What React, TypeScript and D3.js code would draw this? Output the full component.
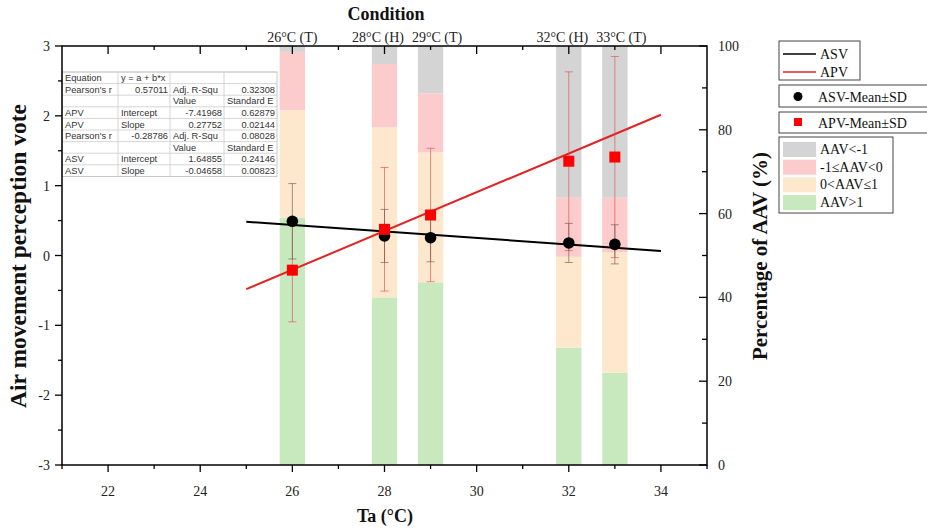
import React from "react";
import * as d3 from "d3";

// ---------- data ----------
const temps = [26, 28, 29, 32, 33];
const conditionLabels = ["26°C (T)", "28°C (H)", "29°C (T)", "32°C (H)", "33°C (T)"];
// stacked percentages (bottom to top)
const pctGt1 = [59, 40, 43.6, 28, 22];          // AAV>1
const pct0to1 = [25.7, 40.6, 31, 21.7, 28.8];   // 0<AAV≤1
const pctM1to0 = [13.9, 15.1, 14.1, 14.1, 13];  // -1≤AAV<0
const pctLtM1 = [1.4, 4.3, 11.3, 36.2, 36.2];   // AAV<-1
const asvMean = [0.49, 0.28, 0.255, 0.18, 0.16];
const asvSd = [0.54, 0.38, 0.345, 0.28, 0.28];
const apvMean = [-0.21, 0.375, 0.58, 1.35, 1.41];
const apvSd = [0.74, 0.885, 0.955, 1.28, 1.44];
const fitRange = [25, 34];
const apvFit = { a: -7.41968, b: 0.27752, r: "0.57011", adjR2: "0.32308", seA: "0.62879", seB: "0.02144" };
const asvFit = { a: 1.64855, b: -0.04658, r: "-0.28786", adjR2: "0.08028", seA: "0.24146", seB: "0.00823" };
const xTicks = [22, 24, 26, 28, 30, 32, 34];
const yTicks = [-3, -2, -1, 0, 1, 2, 3];
const pTicks = [0, 20, 40, 60, 80, 100];

const stackKeys = ["AAV>1", "0<AAV≤1", "-1≤AAV<0", "AAV<-1"];
const stackColors = ["#c7e9bd", "#fde7cd", "#fccbcb", "#d4d4d4"];
const stackArrays = [pctGt1, pct0to1, pctM1to0, pctLtM1];

const W = 927, H = 528;
const L = 62, R = 707, T = 46, B = 465;
const serif = "'Liberation Serif', 'Times New Roman', serif";
const sans = "'Liberation Sans', Arial, sans-serif";

// push overlapping label centers apart
function spreadLabels(centers: number[], minGap: number) {
  const c = centers.slice();
  for (let i = 0; i < c.length - 1; i++) {
    const d = c[i + 1] - c[i];
    if (d < minGap) {
      const s = (minGap - d) / 2;
      c[i] -= s;
      c[i + 1] += s;
    }
  }
  return c;
}

export default function App() {
  const x = d3.scaleLinear().domain([21, 35]).range([L, R]);
  const y = d3.scaleLinear().domain([-3, 3]).range([B, T]);
  const yp = d3.scaleLinear().domain([0, 100]).range([B, T]);
  const barW = x(0.55) - x(0);

  const rows = temps.map((t, i) => {
    const o: any = { t };
    stackKeys.forEach((k, j) => (o[k] = stackArrays[j][i]));
    return o;
  });
  const stacked = d3.stack().keys(stackKeys)(rows as any);

  const fitLine = (f: { a: number; b: number }) =>
    d3.line<number>()
      .x((t) => x(t))
      .y((t) => y(f.a + f.b * t))(fitRange);

  const minorX = d3.range(21, 35.01, 1);
  const minorY = d3.range(-3, 3.01, 0.5);
  const minorP = d3.range(0, 100.01, 10);
  const labelX = spreadLabels(temps.map((t) => x(t)), 59);

  // table
  const tX = [62, 118, 170, 224, 277];
  const tY0 = 72, rh = 11.6;
  const table: string[][] = [
    ["Equation", "y = a + b*x", "", ""],
    ["Pearson's r", apvFit.r, "Adj. R-Squ", apvFit.adjR2],
    ["", "", "Value", "Standard E"],
    ["APV", "Intercept", apvFit.a.toFixed(5), apvFit.seA],
    ["APV", "Slope", apvFit.b.toFixed(5), apvFit.seB],
    ["Pearson's r", asvFit.r, "Adj. R-Squ", asvFit.adjR2],
    ["", "", "Value", "Standard E"],
    ["ASV", "Intercept", asvFit.a.toFixed(5), asvFit.seA],
    ["ASV", "Slope", asvFit.b.toFixed(5), asvFit.seB],
  ];
  const isNum = (s: string) => /^-?\d/.test(s);

  const errBar = (cx: number, m: number, sd: number, color: string, key: string) => (
    <g key={key} stroke={color} strokeWidth={1}>
      <line x1={cx} x2={cx} y1={y(m - sd)} y2={y(m + sd)} />
      <line x1={cx - 4} x2={cx + 4} y1={y(m - sd)} y2={y(m - sd)} />
      <line x1={cx - 4} x2={cx + 4} y1={y(m + sd)} y2={y(m + sd)} />
    </g>
  );

  return (
    <svg width={W} height={H} style={{ position: "absolute", left: 0, top: 0, background: "#fff" }}>
      <rect width={W} height={H} fill="#fff" />
      {/* stacked bars */}
      {stacked.map((s, j) => (
        <g key={j} fill={stackColors[j]}>
          {s.map((d: any, i: number) => (
            <rect key={i} x={x(temps[i]) - barW / 2} width={barW} y={yp(d[1])} height={yp(d[0]) - yp(d[1])} />
          ))}
        </g>
      ))}

      {/* table */}
      <g fontFamily={sans} fontSize={9.3} fill="#333">
        <rect x={tX[0]} y={tY0} width={tX[4] - tX[0]} height={rh * 9} fill="#fff" stroke="#bbb" strokeWidth={0.8} />
        {table.map((_, r) => (
          <line key={"h" + r} x1={tX[0]} x2={tX[4]} y1={tY0 + rh * r} y2={tY0 + rh * r} stroke="#ccc" strokeWidth={0.8} />
        ))}
        {tX.slice(1, 4).map((cx, c) => (
          <line key={"v" + c} x1={cx} x2={cx} y1={tY0} y2={tY0 + rh * 9} stroke="#ccc" strokeWidth={0.8} />
        ))}
        {table.map((row, r) =>
          row.map((cell, c) =>
            cell ? (
              isNum(cell) ? (
                <text key={r + "-" + c} x={tX[c + 1] - 2} y={tY0 + rh * r + rh / 2 + 3.3} textAnchor="end">{cell}</text>
              ) : (
                <text key={r + "-" + c} x={tX[c] + 3} y={tY0 + rh * r + rh / 2 + 3.3}>{cell}</text>
              )
            ) : null
          )
        )}
      </g>

      {/* regression lines */}
      <path d={fitLine(asvFit) || ""} stroke="#000" strokeWidth={2} fill="none" />
      <path d={fitLine(apvFit) || ""} stroke="#e02424" strokeWidth={2} fill="none" />

      {/* error bars */}
      {temps.map((t, i) => errBar(x(t), apvMean[i], apvSd[i], "rgba(220,70,70,0.6)", "pe" + i))}
      {temps.map((t, i) => errBar(x(t), asvMean[i], asvSd[i], "rgba(110,80,70,0.6)", "ae" + i))}

      {/* markers */}
      {temps.map((t, i) => (
        <circle key={"c" + i} cx={x(t)} cy={y(asvMean[i])} r={5.8} fill="#000" />
      ))}
      {temps.map((t, i) => (
        <rect key={"s" + i} x={x(t) - 5.5} y={y(apvMean[i]) - 5.5} width={11} height={11} fill="#ff0000" />
      ))}

      {/* frame */}
      <rect x={L} y={T} width={R - L} height={B - T} fill="none" stroke="#000" strokeWidth={1.5} />

      {/* ticks */}
      <g stroke="#000" strokeWidth={1.3}>
        {minorX.map((v) => (
          <line key={"bx" + v} x1={x(v)} x2={x(v)} y1={B} y2={B + (v % 2 === 0 ? 7 : 4)} />
        ))}
        {minorX.filter((v) => v >= 22 && v <= 34).map((v) => (
          <line key={"tx" + v} x1={x(v)} x2={x(v)} y1={T} y2={T + (v % 2 === 0 ? 8 : 4)} />
        ))}
        {minorY.map((v) => (
          <line key={"ly" + v} x1={L} x2={L - (Number.isInteger(v) ? 7 : 4)} y1={y(v)} y2={y(v)} />
        ))}
        {minorP.map((v) => (
          <line key={"rp" + v} x1={R} x2={R - (v % 20 === 0 ? 8 : 5)} y1={yp(v)} y2={yp(v)} />
        ))}
      </g>
      <g fontFamily={serif} fontSize={14} fill="#222">
        {xTicks.map((v) => (
          <text key={"xl" + v} x={x(v)} y={496} textAnchor="middle">{v}</text>
        ))}
        {yTicks.map((v) => (
          <text key={"yl" + v} x={50} y={y(v) + 5} textAnchor="end">{v}</text>
        ))}
        {pTicks.map((v) => (
          <text key={"pl" + v} x={718} y={yp(v) + 5}>{v}</text>
        ))}
        {temps.map((t, i) => (
          <text key={"cl" + i} x={labelX[i]} y={42} textAnchor="middle">{conditionLabels[i]}</text>
        ))}
      </g>

      {/* titles */}
      <g fontFamily={serif} fontWeight="bold" fill="#111">
        <text x={386} y={20} fontSize={18} textAnchor="middle">Condition</text>
        <text x={385} y={522} fontSize={18} textAnchor="middle">Ta (°C)</text>
        <text transform="translate(26,256) rotate(-90)" fontSize={23.5} textAnchor="middle">Air movement perception vote</text>
        <text transform="translate(767,256) rotate(-90)" fontSize={21} textAnchor="middle">Percentage of AAV (%)</text>
      </g>

      {/* legends */}
      <g fontFamily={serif} fontSize={14} fill="#111">
        <rect x={779} y={41} width={81} height={39} fill="#fff" stroke="#444" strokeWidth={1} />
        <line x1={783} x2={816} y1={54} y2={54} stroke="#000" strokeWidth={1.5} />
        <text x={820} y={59}>ASV</text>
        <line x1={783} x2={816} y1={72} y2={72} stroke="#e02424" strokeWidth={1.5} />
        <text x={820} y={77}>APV</text>

        <rect x={779} y={85} width={150} height={22} fill="#fff" stroke="#444" strokeWidth={1} />
        <circle cx={798} cy={96.5} r={4.5} fill="#000" />
        <text x={818} y={101.5}>ASV-Mean±SD</text>

        <rect x={779} y={112} width={150} height={21} fill="#fff" stroke="#444" strokeWidth={1} />
        <rect x={794} y={118} width={8} height={8} fill="#ff0000" />
        <text x={818} y={127.5}>APV-Mean±SD</text>

        <rect x={779} y={137} width={114} height={76} fill="#fff" stroke="#444" strokeWidth={1} />
        {[3, 2, 1, 0].map((j, k) => (
          <g key={"lg" + j}>
            <rect x={783} y={142 + k * 17.7} width={33} height={15} fill={stackColors[j]} />
            <text x={820} y={154 + k * 17.7}>{stackKeys[j]}</text>
          </g>
        ))}
      </g>
    </svg>
  );
}
